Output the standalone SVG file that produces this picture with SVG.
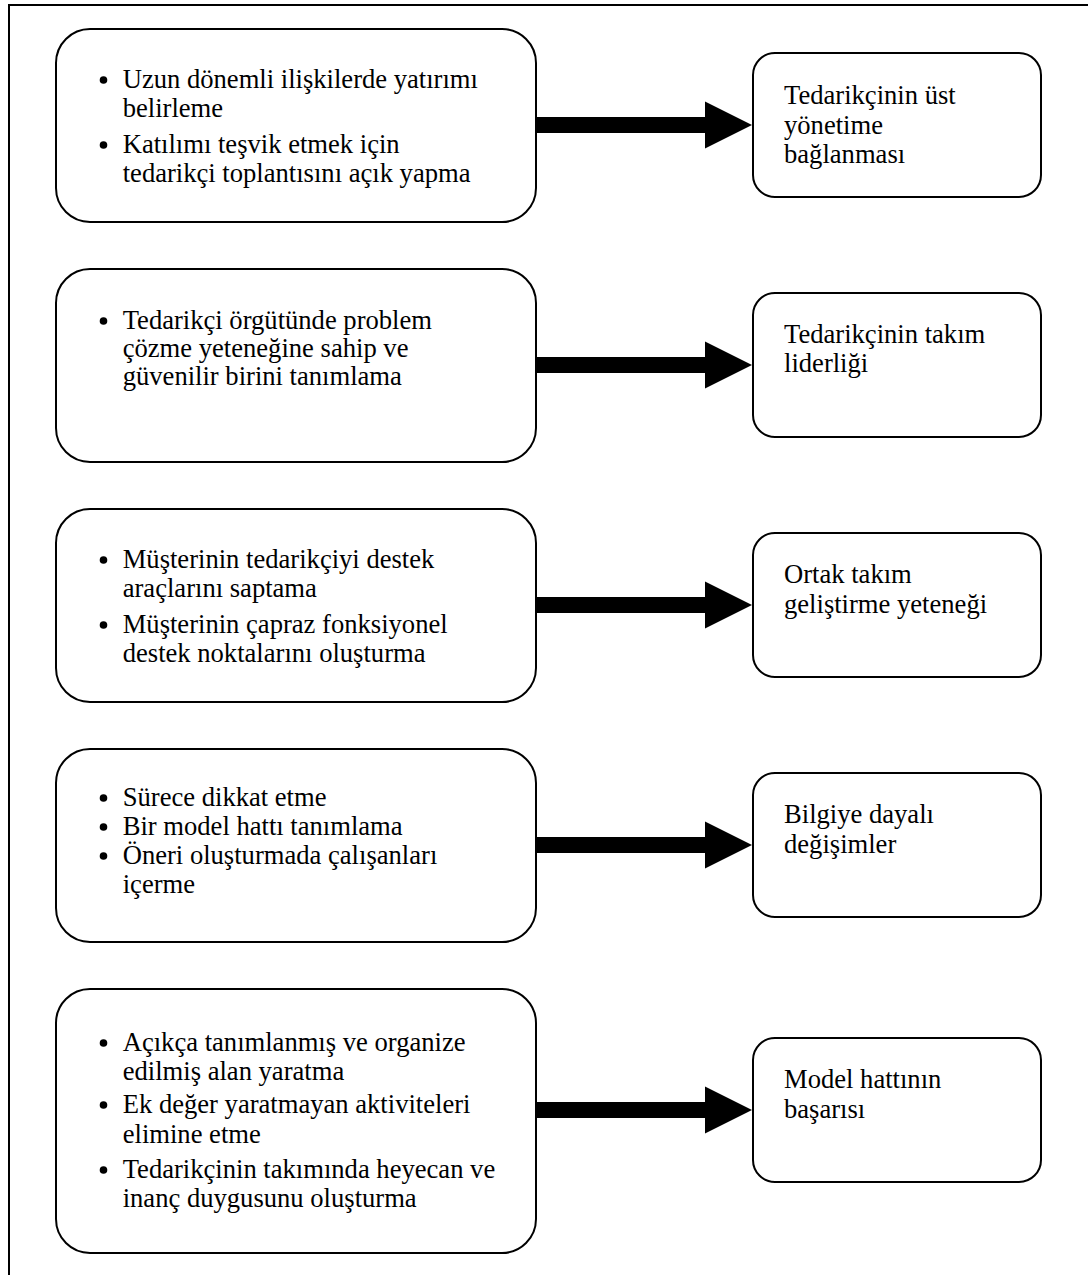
<svg xmlns="http://www.w3.org/2000/svg" width="1088" height="1275" viewBox="0 0 1088 1275">
<style>
.frame{fill:none;stroke:#000;stroke-width:2}
.lb{fill:#fff;stroke:#000;stroke-width:2}
.rb{fill:#fff;stroke:#000;stroke-width:2}
.t{font-family:"Liberation Serif","Times New Roman",serif;font-size:26.6px;fill:#000}
.b{fill:#000}
.arr{fill:#000}
</style>
<defs>
<path id="arrow" d="M0,-8 H169 V-23.5 L216,0 L169,23.5 V8 H0 Z"/>
</defs>
<rect width="1088" height="1275" fill="#fff"/>
<path class="frame" d="M9,1275 V5 H1088"/>
<g id="connectors">
<use href="#arrow" class="arr" x="536" y="125"/>
<use href="#arrow" class="arr" x="536" y="365"/>
<use href="#arrow" class="arr" x="536" y="605"/>
<use href="#arrow" class="arr" x="536" y="845"/>
<use href="#arrow" class="arr" x="536" y="1110"/>
</g>
<g id="left1">
<rect class="lb" x="56" y="29" width="480" height="193" rx="34"/>
<circle class="b" cx="103.5" cy="80" r="3.8"/>
<circle class="b" cx="103.5" cy="145" r="3.8"/>
<text class="t" x="122.7" y="88">Uzun dönemli ilişkilerde yatırımı</text>
<text class="t" x="122.7" y="117">belirleme</text>
<text class="t" x="122.7" y="153">Katılımı teşvik etmek için</text>
<text class="t" x="122.7" y="182">tedarikçi toplantısını açık yapma</text>
</g>
<g id="right1">
<rect class="rb" x="753" y="53" width="288" height="144" rx="22"/>
<text class="t" x="784" y="104">Tedarikçinin üst</text>
<text class="t" x="784" y="133.5">yönetime</text>
<text class="t" x="784" y="163">bağlanması</text>
</g>
<g id="left2">
<rect class="lb" x="56" y="269" width="480" height="193" rx="34"/>
<circle class="b" cx="103.5" cy="321" r="3.8"/>
<text class="t" x="122.7" y="329">Tedarikçi örgütünde problem</text>
<text class="t" x="122.7" y="357">çözme yeteneğine sahip ve</text>
<text class="t" x="122.7" y="385">güvenilir birini tanımlama</text>
</g>
<g id="right2">
<rect class="rb" x="753" y="293" width="288" height="144" rx="22"/>
<text class="t" x="784" y="343">Tedarikçinin takım</text>
<text class="t" x="784" y="372">liderliği</text>
</g>
<g id="left3">
<rect class="lb" x="56" y="509" width="480" height="193" rx="34"/>
<circle class="b" cx="103.5" cy="560" r="3.8"/>
<circle class="b" cx="103.5" cy="625" r="3.8"/>
<text class="t" x="122.7" y="568">Müşterinin tedarikçiyi destek</text>
<text class="t" x="122.7" y="597">araçlarını saptama</text>
<text class="t" x="122.7" y="633">Müşterinin çapraz fonksiyonel</text>
<text class="t" x="122.7" y="662">destek noktalarını oluşturma</text>
</g>
<g id="right3">
<rect class="rb" x="753" y="533" width="288" height="144" rx="22"/>
<text class="t" x="784" y="583">Ortak takım</text>
<text class="t" x="784" y="613">geliştirme yeteneği</text>
</g>
<g id="left4">
<rect class="lb" x="56" y="749" width="480" height="193" rx="34"/>
<circle class="b" cx="103.5" cy="798" r="3.8"/>
<circle class="b" cx="103.5" cy="827" r="3.8"/>
<circle class="b" cx="103.5" cy="856" r="3.8"/>
<text class="t" x="122.7" y="806">Sürece dikkat etme</text>
<text class="t" x="122.7" y="835">Bir model hattı tanımlama</text>
<text class="t" x="122.7" y="864">Öneri oluşturmada çalışanları</text>
<text class="t" x="122.7" y="893">içerme</text>
</g>
<g id="right4">
<rect class="rb" x="753" y="773" width="288" height="144" rx="22"/>
<text class="t" x="784" y="823">Bilgiye dayalı</text>
<text class="t" x="784" y="853">değişimler</text>
</g>
<g id="left5">
<rect class="lb" x="56" y="989" width="480" height="264" rx="34"/>
<circle class="b" cx="103.5" cy="1043" r="3.8"/>
<circle class="b" cx="103.5" cy="1105" r="3.8"/>
<circle class="b" cx="103.5" cy="1170" r="3.8"/>
<text class="t" x="122.7" y="1051">Açıkça tanımlanmış ve organize</text>
<text class="t" x="122.7" y="1080">edilmiş alan yaratma</text>
<text class="t" x="122.7" y="1113">Ek değer yaratmayan aktiviteleri</text>
<text class="t" x="122.7" y="1143">elimine etme</text>
<text class="t" x="122.7" y="1178">Tedarikçinin takımında heyecan ve</text>
<text class="t" x="122.7" y="1207">inanç duygusunu oluşturma</text>
</g>
<g id="right5">
<rect class="rb" x="753" y="1038" width="288" height="144" rx="22"/>
<text class="t" x="784" y="1088">Model hattının</text>
<text class="t" x="784" y="1118">başarısı</text>
</g>
</svg>
